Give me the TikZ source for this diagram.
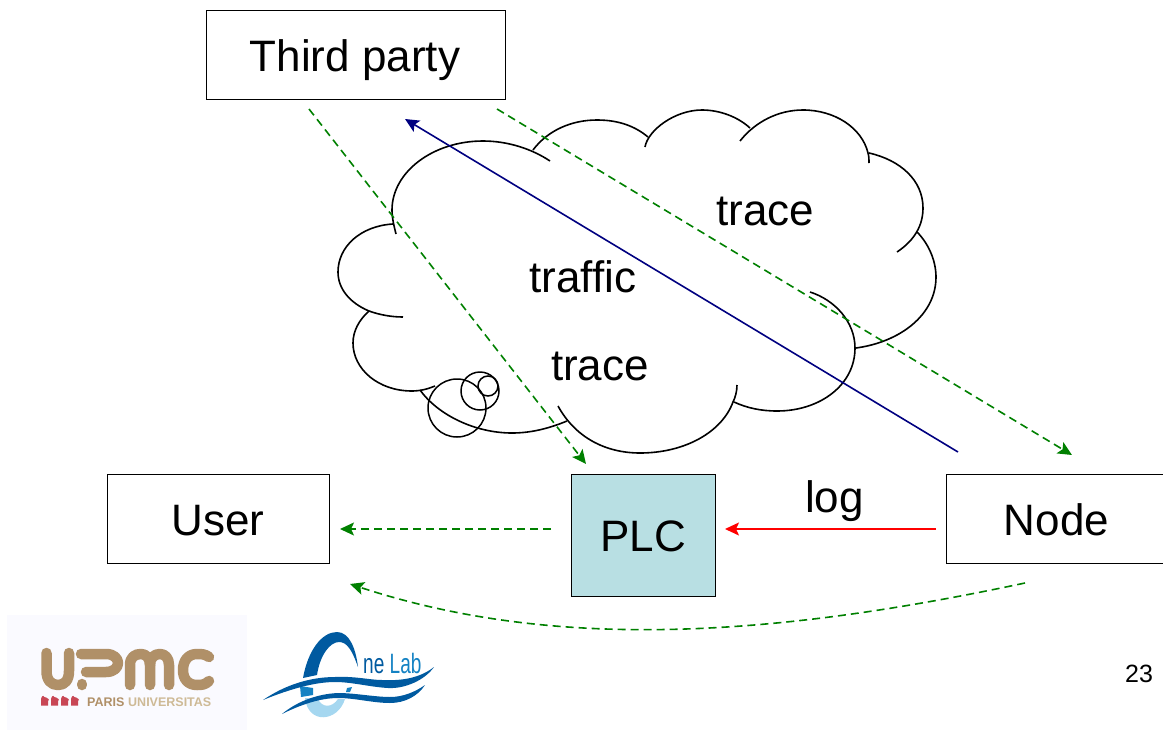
\documentclass[tikz,border=0pt]{standalone}
\usepackage{fontspec}
\setmainfont{Liberation Sans}
\usetikzlibrary{arrows.meta}
\definecolor{grn}{RGB}{0,128,0}
\definecolor{nvy}{RGB}{0,0,128}
\definecolor{plcfill}{RGB}{184,223,227}
\definecolor{tan}{RGB}{176,144,104}
\definecolor{tanl}{RGB}{206,186,150}
\definecolor{crim}{RGB}{200,70,85}
\definecolor{obd}{RGB}{0,90,160}
\definecolor{obm}{RGB}{20,130,195}
\definecolor{obl}{RGB}{165,215,240}
\tikzset{
 x=1pt,y=-1pt,
 box/.style={draw=black,line width=1.5pt,inner sep=0pt,anchor=north west},
 lbl/.style={inner sep=0pt,font=\fontsize{44}{50}\selectfont},
 cloudarc/.style={line width=1.6pt,black},
 bub/.style={circle,draw,line width=1.5pt,inner sep=0pt},
 tip/.style={-{Stealth[length=14pt,width=13pt,inset=3pt]}},
 flow/.style={line width=1.6pt,grn,dash pattern=on 8pt off 5pt,tip},
 upmc/.style={tan,line width=10.5pt,line cap=round,line join=round},
}
\begin{document}
\begin{tikzpicture}
\useasboundingbox (0,0) rectangle (1163,731);
% cloud
\draw[cloudarc] (396,234) .. controls (394,226) and (392,218) .. (392,210) .. controls (392,172) and (433,141) .. (483,141) .. controls (508,141) and (532,149) .. (550,161);
\draw[cloudarc] (533,150) .. controls (548,130) and (572,120) .. (597,120) .. controls (620,120) and (636,127) .. (648,137);
\draw[cloudarc] (645,147) .. controls (648,130) and (675,110) .. (702,110) .. controls (720,110) and (738,117) .. (750,128);
\draw[cloudarc] (740,141) .. controls (755,122) and (778,110) .. (803,110) .. controls (835,110) and (862,128) .. (868,153) .. controls (869,156) and (869,160) .. (869,163);
\draw[cloudarc] (869,153) .. controls (900,160) and (923,180) .. (923,208) .. controls (923,225) and (915,240) .. (897,252);
\draw[cloudarc] (917,232) .. controls (928,243) and (936,260) .. (936,277) .. controls (936,315) and (900,342) .. (856,348);
\draw[cloudarc] (810,292) .. controls (835,300) and (855,322) .. (855,348) .. controls (855,385) and (820,411) .. (777,411) .. controls (761,411) and (747,408) .. (734,402);
\draw[cloudarc] (737,385) .. controls (737,392) and (735,398) .. (733,402) .. controls (722,432) and (685,453) .. (640,453) .. controls (605,453) and (575,437) .. (558,406);
\draw[cloudarc] (567,421) .. controls (550,428) and (532,433) .. (512,433) .. controls (475,433) and (438,415) .. (420,390);
\draw[cloudarc] (435,386) .. controls (428,389) and (420,391) .. (412,391) .. controls (378,391) and (353,369) .. (353,343) .. controls (353,331) and (359,320) .. (369,311);
\draw[cloudarc] (403,317) .. controls (392,317) and (380,315) .. (369,311) .. controls (350,303) and (338,289) .. (338,272) .. controls (338,247) and (360,226) .. (393,224);
\node[bub,minimum size=58pt] (c1) at (457,408) {};
\node[bub,minimum size=38pt] (c2) at (480,391) {};
\node[bub,minimum size=20pt] (c3) at (488,386) {};
% boxes
\node[box,minimum width=299pt,minimum height=89pt] (third) at (205.5,9.5) {};
\node[lbl] (thirdt) at (355,60) {Third party};
\node[box,minimum width=222pt,minimum height=89pt] (user) at (106.5,473.5) {};
\node[lbl] (usert) at (218,521) {User};
\node[box,fill=plcfill,minimum width=144pt,minimum height=122pt] (plc) at (570.5,473.5) {};
\node[lbl] (plct) at (643,536) {PLC};
\node[box,minimum width=230pt,minimum height=89pt] (nodebox) at (945.5,473.5) {};
\node[lbl] (nodet) at (1056.5,520) {Node};
% labels
\node[lbl] (l1) at (765.5,211) {trace};
\node[lbl] (l2) at (583,277) {traffic};
\node[lbl] (l3) at (600,366) {trace};
\node[lbl] (l4) at (834.5,501) {log};
\node[inner sep=0pt,font=\fontsize{25}{30}\selectfont] (pg) at (1139,674) {23};
% connector ends
\coordinate (a1) at (958,452); \coordinate (a2) at (405,119);
\coordinate (b1) at (309,109); \coordinate (b2) at (586,464);
\coordinate (d1) at (497,109); \coordinate (d2) at (1072,455);
\coordinate (e1) at (551,529); \coordinate (e2) at (340,529);
\coordinate (f1) at (1025,583); \coordinate (f2) at (350,584);
\coordinate (r1) at (936,529); \coordinate (r2) at (725,529);
\draw[nvy,line width=1.6pt,tip] (a1) -- (a2);
\draw[flow] (b1) -- (b2);
\draw[flow] (d1) -- (d2);
\draw[flow] (e1) -- (e2);
\draw[flow] (f1) .. controls (780,635) and (560,653) .. (f2);
\draw[red,line width=1.6pt,tip] (r1) -- (r2);
% UPMC logo
\fill[white!98!blue] (7,615) rectangle (247,730);
\draw[upmc] (46.5,653) -- (46.5,671) .. controls (46.5,680) and (51,685) .. (58,685) .. controls (65,685) and (69,680) .. (69,671) -- (69,653);
\draw[upmc] (81,654) -- (106,654) .. controls (122,654) and (122,672) .. (106,672) -- (86,672);
\draw[upmc] (82,685) -- (82,684);
\draw[upmc] (130,685) -- (130,665) .. controls (130,657) and (135,654) .. (141,654) .. controls (146,654) and (150,658) .. (150,665) -- (150,685);
\draw[upmc] (150,665) .. controls (150,658) and (154,654) .. (160,654) .. controls (165,654) and (169,658) .. (169,665) -- (169,685);
\draw[upmc] (209,657) .. controls (205,654) and (201,654) .. (197,654) .. controls (188,654) and (183,661) .. (183,670) .. controls (183,679) and (188,685) .. (197,685) .. controls (201,685) and (205,685) .. (209,681);
\foreach \xx in {41,51,61,71} \fill[crim] (\xx,705.5) -- ++(0,-5) .. controls +(0,-3) and +(-2,-3) .. ++(3.5,-3.5) .. controls +(2,0) and +(3.5,0.5) .. ++(3.5,3.5) -- ++(0,5) -- cycle;
\node[inner sep=0pt,anchor=base west,tan,font=\bfseries\fontsize{12.5}{14}\selectfont] (par) at (87,706) {PARIS};
\node[inner sep=0pt,anchor=base west,tanl,font=\bfseries\fontsize{12.5}{14}\selectfont] (uni) at (128,706) {UNIVERSITAS};
% OneLab logo
\fill[obl] (305,698) .. controls (308,725) and (338,722) .. (345,699) -- (338,699) .. controls (332,708) and (322,708) .. (318,699) -- cycle;
\fill[obm] (300,686) -- (313,688) -- (313,695) -- (301,697) -- cycle;
\fill[obm] (347,688) -- (352,687) -- (350,692) -- (346,692) -- cycle;
\fill[obd] (303,678) .. controls (308,650) and (322,632) .. (337,632) .. controls (350,632) and (356,650) .. (358,667) .. controls (352,650) and (347,642) .. (339,642) .. controls (330,642) and (320,655) .. (317,675) -- cycle;
\fill[obd] (263,700) .. controls (285,685) and (310,677) .. (335,677) .. controls (355,676) and (370,680) .. (382,680) .. controls (402,681) and (420,678) .. (434,667) .. controls (425,680) and (405,689) .. (388,688) .. controls (370,687) and (352,682) .. (335,682) .. controls (315,682) and (290,689) .. (263,700) -- cycle;
\fill[obd] (282,714) .. controls (295,703) and (315,694) .. (338,693) .. controls (355,693) and (375,697) .. (390,697) .. controls (403,697) and (415,692) .. (425,685) .. controls (418,696) and (405,703) .. (390,703) .. controls (373,703) and (355,698) .. (338,698) .. controls (320,698) and (300,705) .. (282,714) -- cycle;
\node[inner sep=0pt,anchor=base west,font=\fontsize{28}{30}\selectfont] (ol) at (363,673) {\scalebox{.68}[1]{\textcolor{obd}{ne}~\textcolor{obm}{Lab}}};
\end{tikzpicture}
\end{document}
